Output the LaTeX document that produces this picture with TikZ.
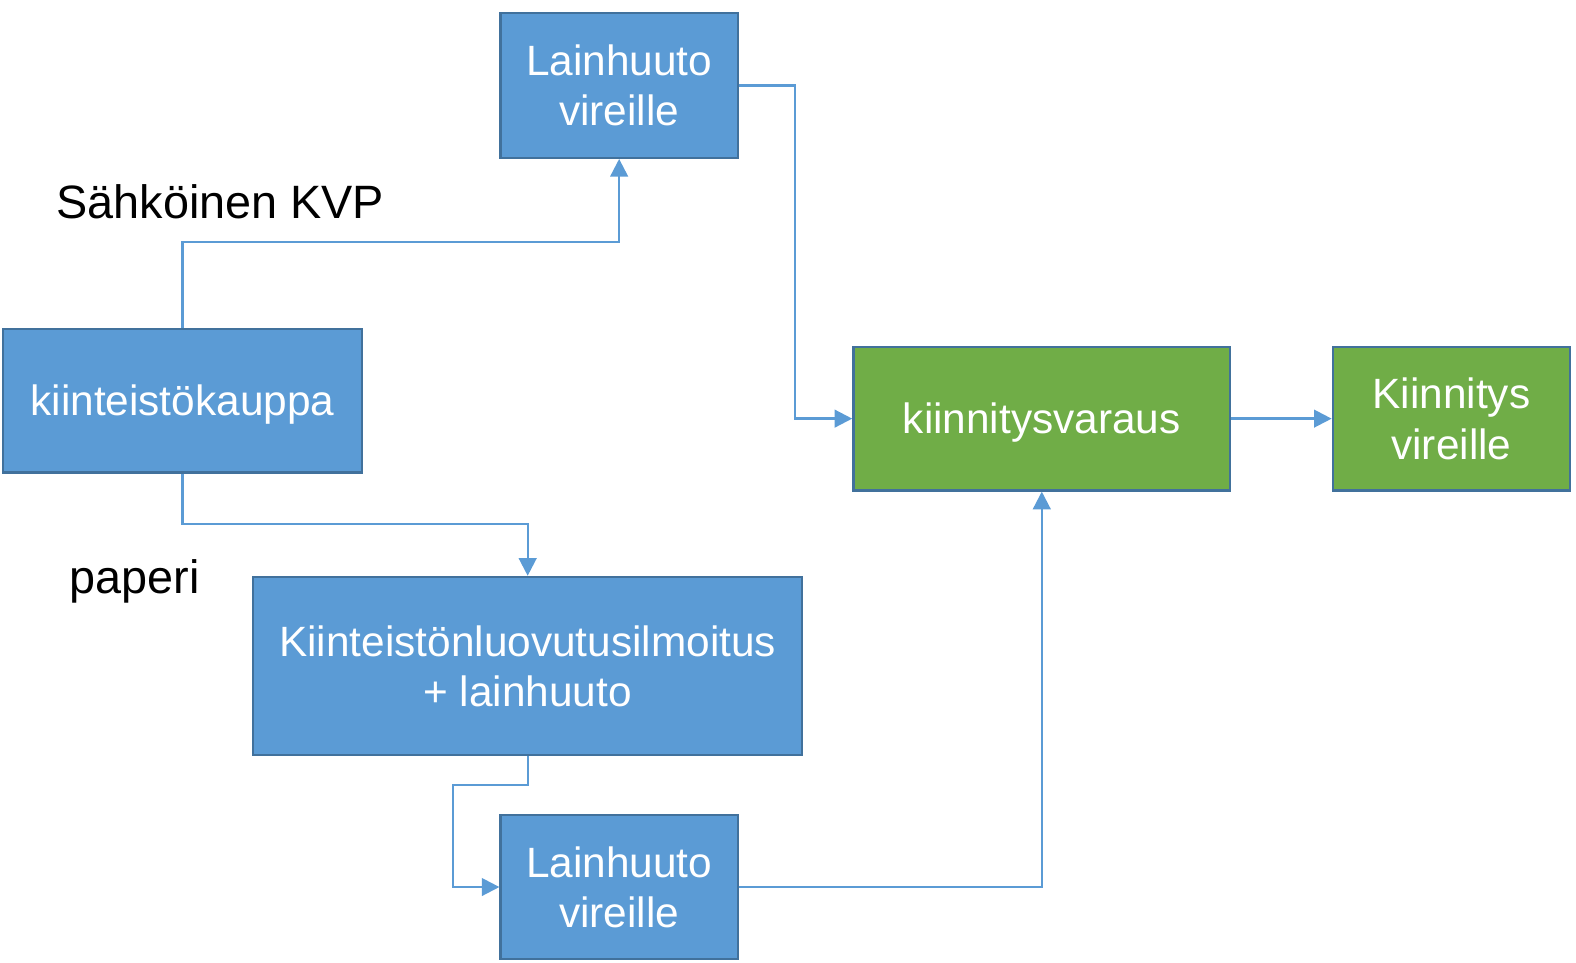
\documentclass[tikz,border=0pt]{standalone}
\usepackage{fontspec}
\setmainfont{Liberation Sans}
\usepackage{tikz}
\usetikzlibrary{arrows.meta}
\usetikzlibrary{positioning}
\definecolor{boxblue}{HTML}{5B9BD5}
\definecolor{boxgreen}{HTML}{70AD47}
\definecolor{edgeblue}{HTML}{41719C}
\tikzstyle{box}=[draw=edgeblue,rectangle,fill=boxblue,line width=1.3pt,text=white,align=center,text depth=0pt,font=\fontsize{24}{28.5}\selectfont]
\tikzstyle{gbox}=[box,fill=boxgreen]
\tikzstyle{lbl}=[anchor=west,font=\fontsize{26.5}{30}\selectfont]
\tikzstyle{conn}=[draw=boxblue,line width=1.3pt,-{Triangle[length=10pt,width=10pt]}]

\begin{document}
\begin{tikzpicture}[x=0.02cm,y=-0.02cm]
      \useasboundingbox (0,0) rectangle (1568,958);
      \node [box, minimum width=4.72cm, minimum height=2.88cm] (L1) at (616, 85) {Lainhuuto\\vireille};
      \node [box, minimum width=7.14cm, minimum height=2.86cm] (K) at (181.5, 398.5) {kiinteistökauppa};
      \node [box, minimum width=10.92cm, minimum height=3.54cm] (KL) at (525, 662.5) {Kiinteistönluovutusilmoitus\\+ lainhuuto};
      \node [box, minimum width=4.72cm, minimum height=2.86cm] (L2) at (616, 882.5) {Lainhuuto\\vireille};
      \node [gbox, minimum width=7.5cm, minimum height=2.86cm] (V) at (1036.5, 416.5) {kiinnitysvaraus};
      \node [gbox, minimum width=4.72cm, minimum height=2.86cm] (KV) at (1444, 416.5) {Kiinnitys\\vireille};

      \node [lbl] (S) at (50, 201) {Sähköinen KVP};
      \node [lbl] (P) at (63, 578) {paperi};

      \draw [conn] (K.north) |- (399, 241) -| (L1.south);
      \draw [conn] (L1.east) -| (791, 300) |- (V.west);
      \draw [conn] (K.south) |- (350, 521) -| (KL.north);
      \draw [conn] (KL.south) |- (451, 781) |- (L2.west);
      \draw [conn] (L2.east) -| (V.south);
      \draw [conn] (V.east) -- (KV.west);
    \end{tikzpicture}
\end{document}
